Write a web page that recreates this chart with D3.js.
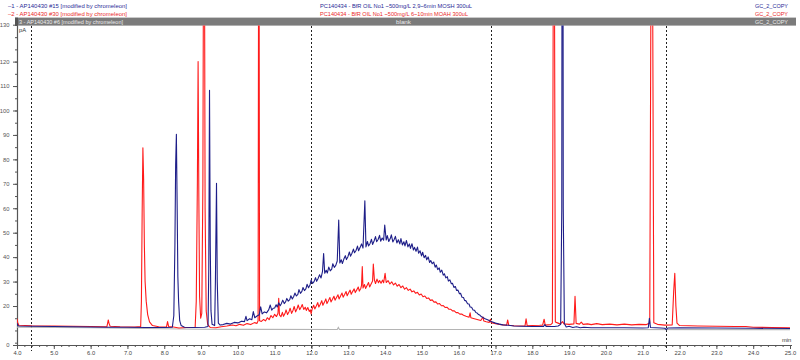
<!DOCTYPE html>
<html><head><meta charset="utf-8">
<script src="https://cdn.jsdelivr.net/npm/d3@7"></script>
<style>
body{margin:0;background:#fff}
svg{display:block}
text{font-family:"Liberation Sans",Arial,sans-serif}
</style>
</head><body>
<svg id="c" width="800" height="360"></svg>
<script>
// ---------- texts ----------
const runLabels = ["–1 - AP140430 #15 [modified by chromeleon]", "–2 - AP140430 #30 [modified by chromeleon]", "3 - AP140430 #6 [modified by chromeleon]"];
const sampleLabels = ["PC140434 - BfR OIL No1 ~500mg/L 2,9~6min MOSH 300uL", "PC140434 - BfR OIL No1 ~500mg/L 6~10min MOAH 300uL", "blank"];
const instrumentLabels = ["GC_2_COPY", "GC_2_COPY", "GC_2_COPY"];
const xTickValues = [4,5,6,7,8,9,10,11,12,13,14,15,16,17,18,19,20,21,22,23,24,25];
const yTickValues = [20,30,40,50,60,70,80,90,100,110,120];
const yEndLabels = ["0", "130"];
const markerTimes = [4.38, 12.0, 16.87, 21.63];

// ---------- series (time [min], signal [pA]) ----------
const mosh = [
[4.00,12.9],[4.02,12.2],[4.05,11.8],[4.40,11.7],[5.00,11.6],[5.50,11.5],[6.00,11.4],[6.50,11.3],[7.00,11.3],[7.50,11.2],[8.00,11.2],[8.22,11.3],[8.26,16],[8.29,45],[8.31,78],[8.33,90.3],[8.35,62],[8.37,32],[8.39,22],[8.42,14],[8.46,12],[8.55,11.3],[8.80,11.2],[9.10,11.3],[9.19,11.6],[9.21,35],[9.23,108.3],[9.25,45],[9.27,18],[9.30,12.5],[9.37,12.0],[9.39,30],[9.42,70.2],[9.44,30],[9.47,13],[9.52,12.2],
[9.60,12.4],[9.70,12.9],[9.80,12.6],[9.90,13.3],[10.00,13.1],[10.10,13.8],[10.18,13.6],[10.22,15.8],[10.25,14.0],[10.32,14.8],[10.38,14.4],[10.42,17.7],[10.46,15.2],[10.52,15.9],[10.58,16.4],[10.62,19.7],[10.66,16.8],[10.72,17.6],[10.78,17.2],[10.84,18.5],[10.88,20.4],[10.92,18.3],[10.96,19.1],
[11.00,19.2],[11.04,20.5],[11.07,19.6],[11.11,21.3],[11.15,20.1],[11.18,20.9],[11.22,22.4],[11.26,21.0],[11.30,21.8],[11.33,23.1],[11.37,22.0],[11.41,22.6],[11.44,24.2],[11.48,22.9],[11.52,24.0],[11.55,25.3],[11.59,24.1],[11.63,24.8],[11.66,26.7],[11.70,25.2],[11.74,26.0],[11.77,27.6],[11.81,26.3],[11.85,27.1],[11.88,28.9],[11.92,27.5],[11.96,28.6],[11.99,30.6],[12.03,29.2],[12.07,30.0],[12.11,31.6],[12.14,30.1],[12.18,31.3],[12.22,32.8],[12.26,31.5],[12.30,34.2],[12.33,41.5],[12.36,33.4],[12.40,34.6],[12.43,33.5],[12.47,35.9],[12.51,34.4],[12.55,35.1],[12.58,37.3],[12.62,35.8],[12.66,36.6],[12.70,38.4],[12.74,55.2],[12.77,37.6],[12.81,38.9],[12.84,37.4],[12.88,39.2],[12.92,40.6],[12.95,39.0],[12.99,40.2],[13.03,42.1],[13.06,40.4],[13.10,41.6],[13.14,43.3],[13.17,41.8],[13.21,42.7],[13.25,44.5],[13.28,42.6],[13.32,43.9],[13.36,45.4],[13.40,43.7],[13.45,63.1],[13.48,44.2],[13.52,46.4],[13.55,44.6],[13.59,45.5],[13.63,47.3],[13.66,45.2],[13.70,46.6],[13.74,48.4],[13.77,46.3],[13.81,47.2],[13.85,48.9],[13.88,46.5],[13.92,47.8],[13.96,46.9],[13.99,53.1],[14.03,47.0],[14.06,48.8],[14.10,46.4],[14.14,47.6],[14.17,49.1],[14.21,46.2],[14.25,47.3],[14.28,48.5],[14.32,45.8],[14.36,47.1],[14.40,45.4],[14.43,47.6],[14.47,45.0],[14.51,46.3],[14.54,44.6],[14.58,46.8],[14.62,44.2],[14.66,45.4],[14.69,43.6],[14.73,45.5],[14.77,42.9],[14.80,44.0],[14.84,42.4],[14.88,44.1],[14.91,41.6],[14.95,42.6],[14.99,40.5],[15.02,42.0],[15.06,39.8],[15.10,40.7],[15.13,38.9],[15.17,40.1],[15.21,37.8],[15.24,38.6],[15.28,37.3],[15.32,38.0],[15.36,35.9],[15.39,36.8],[15.43,34.9],[15.47,35.6],[15.50,33.8],[15.54,34.7],[15.58,32.6],[15.61,33.2],[15.65,31.5],[15.69,32.0],[15.72,30.2],[15.76,30.7],[15.80,29.1],[15.83,29.3],[15.87,27.6],[15.91,28.0],[15.94,26.4],[15.98,26.5],[16.02,25.0],[16.05,25.2],[16.09,23.6],[16.13,23.5],[16.16,22.3],[16.20,22.1],[16.24,20.9],[16.28,20.8],[16.31,19.6],[16.35,19.5],[16.39,18.4],[16.43,18.3],[16.46,17.4],[16.50,17.1],[16.54,16.5],[16.58,16.2],[16.62,15.6],[16.66,15.3],[16.70,14.9],[16.75,14.6],[16.80,14.3],[16.85,13.9],[16.90,13.6],[17.00,13.0],[17.10,12.6],[17.20,12.3],[17.35,12.1],[17.50,11.8],
[17.70,11.7],[18.00,11.6],[18.30,11.6],[18.34,12.4],[18.38,11.6],[18.60,11.6],[18.70,11.8],[18.77,12.5],[18.80,60],[18.82,400],[18.84,60],[18.87,12.8],[18.92,11.4],[19.00,11.7],[19.10,11.2],[19.20,11.5],[19.30,11.1],[19.40,11.3],[19.60,11.1],[20.00,11.1],[20.50,11.1],[21.00,11.0],[21.15,11.1],[21.18,15],[21.21,11.2],[21.50,11.0],[21.60,10.9],[21.64,10.3],[21.68,11.0],[22.00,11.1],[23.00,11.0],[24.00,10.9],[25.00,10.8]
];
const moah = [
[4.00,14.8],[4.02,13.2],[4.05,12.1],[4.40,11.9],[5.00,11.8],[5.50,11.7],[6.00,11.6],[6.44,11.5],[6.46,12.8],[6.48,14.3],[6.50,12.9],[6.53,11.7],[6.80,11.5],[7.20,11.4],[7.36,11.6],[7.38,22],[7.40,58],[7.42,84.7],[7.44,72],[7.46,45],[7.48,30],[7.51,22],[7.55,16.5],[7.60,13.5],[7.68,12.0],[7.85,11.5],[8.06,11.4],[8.09,13.6],[8.12,11.6],[8.25,11.4],[8.40,11.0],[8.60,11.2],[8.84,11.3],[8.87,22],[8.90,70],[8.92,120],[8.94,65],[8.96,24],[8.99,15],[9.02,17],[9.05,70],[9.08,250],[9.11,60],[9.14,18],[9.18,12.5],[9.25,11.2],[9.40,11.1],[9.55,11.5],[9.70,11.8],[9.85,12.2],[9.95,11.9],[10.05,12.5],[10.15,12.1],[10.25,12.8],[10.35,12.4],[10.45,13.2],[10.52,12.9],[10.55,14],[10.57,250],[10.59,14],[10.64,13.7],[10.70,14.5],[10.75,13.9],[10.80,15.2],[10.85,14.4],[10.90,16.1],[10.95,15.2],[11.00,16.6],[11.05,15.7],[11.09,17.0],[11.11,23.2],[11.13,16.4],
[11.17,15.6],[11.21,17.4],[11.24,15.8],[11.28,16.9],[11.31,18.4],[11.35,16.5],[11.39,17.7],[11.42,19.1],[11.46,17.0],[11.50,18.3],[11.53,19.8],[11.57,17.6],[11.61,19.0],[11.64,20.4],[11.68,18.5],[11.72,19.6],[11.75,20.6],[11.79,18.6],[11.83,19.5],[11.86,18.2],[11.90,19.4],[11.94,17.8],[11.97,18.4],[11.99,16.8],[12.02,18.9],[12.06,20.3],[12.09,18.8],[12.13,20.0],[12.17,21.4],[12.20,19.6],[12.24,20.7],[12.28,22.2],[12.31,20.3],[12.35,21.5],[12.39,22.9],[12.42,21.0],[12.46,22.2],[12.50,23.5],[12.53,21.7],[12.57,22.8],[12.61,24.0],[12.64,22.4],[12.68,23.5],[12.72,24.6],[12.75,22.9],[12.79,24.1],[12.83,25.3],[12.86,23.6],[12.90,24.7],[12.94,25.9],[12.97,24.2],[13.01,25.4],[13.05,26.5],[13.08,24.8],[13.12,26.0],[13.16,27.0],[13.19,25.5],[13.23,26.6],[13.27,27.8],[13.30,26.1],[13.34,27.2],[13.36,28.4],[13.38,36.1],[13.40,27.4],[13.44,28.8],[13.47,27.2],[13.51,28.4],[13.55,29.6],[13.58,27.8],[13.62,29.0],[13.66,30.2],[13.68,37.2],[13.71,30.6],[13.74,29.2],[13.78,31.0],[13.82,29.5],[13.85,30.4],[13.89,29.3],[13.93,30.6],[13.96,29.5],[14.00,33.4],[14.03,29.6],
[14.08,30.4],[14.13,29.0],[14.18,29.9],[14.23,28.6],[14.28,29.4],[14.33,28.1],[14.38,28.8],[14.43,27.5],[14.48,28.2],[14.53,26.9],[14.58,27.5],[14.63,26.4],[14.68,26.9],[14.73,25.8],[14.78,26.2],[14.83,25.2],[14.88,25.6],[14.93,24.5],[14.98,24.9],[15.03,23.8],[15.08,24.1],[15.13,23.1],[15.18,23.3],[15.23,22.3],[15.28,22.5],[15.33,21.6],[15.38,21.7],[15.43,20.8],[15.48,21.0],[15.53,20.1],[15.58,20.2],[15.63,19.4],[15.68,19.5],[15.73,18.7],[15.78,18.7],[15.83,18.0],[15.88,18.0],[15.93,17.3],[15.98,17.3],[16.03,16.7],[16.08,16.7],[16.13,16.2],[16.20,15.8],[16.28,15.4],[16.31,17.2],[16.33,15.2],[16.40,14.9],[16.50,14.5],[16.60,14.1],[16.66,15.5],[16.68,13.9],[16.75,13.6],[16.83,13.3],[16.86,14.6],[16.88,13.2],[17.00,12.8],[17.15,12.4],[17.30,12.1],[17.33,14.3],[17.36,12.1],[17.50,11.9],[17.80,11.8],[17.83,14.8],[17.86,11.9],
[18.00,12.0],[18.20,12.1],[18.28,12.2],[18.32,14.6],[18.35,12.2],[18.50,12.4],[18.545,13],[18.585,250],[18.625,13.5],[18.70,13.0],[18.76,12.6],[18.82,13.6],[18.86,12.7],[19.00,12.5],[19.13,12.7],[19.16,24],[19.19,12.9],[19.28,12.6],[19.33,13.4],[19.38,12.5],[19.50,12.7],[19.60,12.4],[19.75,12.8],[19.90,12.4],[20.10,12.6],[20.30,12.3],[20.50,12.6],[20.70,12.3],[20.90,12.5],[21.10,12.4],[21.19,13],[21.245,250],[21.30,13.2],[21.40,12.5],[21.60,12.2],[21.80,12.3],[21.84,26],[21.87,33.4],[21.90,20],[21.93,13.0],[22.00,12.0],[22.50,11.8],[23.00,11.7],[23.50,11.6],[23.80,11.6],[24.00,11.3],[24.50,11.2],[25.00,11.1]
];
const blank = [
[4.00,11.4],[6.00,11.1],[8.00,10.7],[9.00,10.5],[12.70,10.4],[12.73,11.2],[12.76,10.4],[18.00,10.4],[25.00,10.3]
];

// ---------- drawing ----------
const svg = d3.select("#c");
const x = d3.scaleLinear().domain([4, 25]).range([17, 790]);
const y = d3.scaleLinear().domain([4.05, 135.1]).range([345, 24.7]);

// header
const hdr = svg.append("g").attr("font-size", 5.6);
const rowY = [7.5, 15.5, 23.8];
const rowCol = ["#2a2a96", "#ea2a2a", "#ececec"];
hdr.append("rect").attr("x", 15).attr("y", 17.6).attr("width", 781).attr("height", 8).attr("fill", "#7b7b7b");
hdr.append("rect").attr("x", 15).attr("y", 17.6).attr("width", 3).attr("height", 8).attr("fill", "#555");
const leftW = [119, 119, 104], midX = [320, 320, 396], midW = [152, 148, 15];
runLabels.forEach((t, i) => {
  hdr.append("text").attr("x", i < 2 ? 8 : 19).attr("y", rowY[i]).attr("fill", rowCol[i])
    .attr("textLength", leftW[i]).attr("lengthAdjust", "spacingAndGlyphs").text(t);
});
sampleLabels.forEach((t, i) => {
  hdr.append("text").attr("x", midX[i]).attr("y", rowY[i]).attr("fill", rowCol[i])
    .attr("textLength", midW[i]).attr("lengthAdjust", "spacingAndGlyphs").text(t);
});
instrumentLabels.forEach((t, i) => {
  hdr.append("text").attr("x", 755).attr("y", rowY[i]).attr("fill", rowCol[i])
    .attr("textLength", 33).attr("lengthAdjust", "spacingAndGlyphs").text(t);
});

// clip
svg.append("clipPath").attr("id", "pl").append("rect")
  .attr("x", 17).attr("y", 25.6).attr("width", 775).attr("height", 319.4);

// marker dashed lines
svg.append("g").selectAll("line").data(markerTimes).join("line")
  .attr("x1", d => Math.round(x(d)) + 0.5).attr("x2", d => Math.round(x(d)) + 0.5)
  .attr("y1", 26).attr("y2", 351)
  .attr("stroke", "#222").attr("stroke-width", 1).attr("stroke-dasharray", "2,2");

// axes
const axCol = "#555";
const xMinor = d3.range(4, 25.001, 0.2);
svg.append("g").attr("transform", "translate(0,345)")
  .call(d3.axisBottom(x).tickValues(xMinor).tickSize(2).tickFormat("").tickSizeOuter(0))
  .call(g => g.select(".domain").remove())
  .call(g => g.selectAll("line").attr("stroke", axCol));
const gx = svg.append("g").attr("transform", "translate(0,345)")
  .call(d3.axisBottom(x).tickValues(xTickValues).tickSize(4).tickSizeOuter(0).tickFormat(d3.format(".1f")));
gx.select(".domain").attr("stroke", axCol).attr("d", "M17,0.5H792");
gx.selectAll("line").attr("stroke", axCol);
gx.selectAll("text").attr("font-size", 5.8).attr("fill", "#444").attr("dy", "0.55em")
  .attr("font-family", "'Liberation Sans',Arial,sans-serif");

const yMinor = d3.range(5, 136, 5);
svg.append("g").attr("transform", "translate(17,0)")
  .call(d3.axisLeft(y).tickValues(yMinor.filter(v => v > 4.05 && v < 135.1)).tickSize(2).tickFormat("").tickSizeOuter(0))
  .call(g => g.select(".domain").remove())
  .call(g => g.selectAll("line").attr("stroke", axCol));
const yDom = y.domain();
const gy = svg.append("g").attr("transform", "translate(17,0)")
  .call(d3.axisLeft(y).tickValues([yDom[0], ...yTickValues, yDom[1]]).tickSize(4).tickSizeOuter(0)
    .tickFormat(d => d === yDom[0] ? yEndLabels[0] : d === yDom[1] ? yEndLabels[1] : d));
gy.select(".domain").attr("stroke", axCol).attr("stroke-width", 1.2);
gy.selectAll("line").attr("stroke", axCol);
gy.selectAll("text").attr("font-size", 5.8).attr("fill", "#555").attr("dx", "-0.1em")
  .attr("font-family", "'Liberation Sans',Arial,sans-serif");

svg.append("text").attr("x", 19).attr("y", 31.5).attr("font-size", 5.8).attr("fill", "#333").text("pA");
svg.append("text").attr("x", 782).attr("y", 342).attr("font-size", 5.8).attr("fill", "#333").text("min");

// traces
const line = d3.line().x(d => x(d[0])).y(d => y(d[1]));
const plot = svg.append("g").attr("clip-path", "url(#pl)");
plot.append("path").datum(blank).attr("d", line).attr("fill", "none").attr("stroke", "#b4b4b4").attr("stroke-width", 1.2);
plot.append("path").datum(moah).attr("d", line).attr("fill", "none").attr("stroke", "#ff1a1a").attr("stroke-width", 1.1).attr("stroke-linejoin", "round");
plot.append("path").datum(mosh).attr("d", line).attr("fill", "none").attr("stroke", "#1e1e88").attr("stroke-width", 1.1).attr("stroke-linejoin", "round");
</script>
</body></html>
